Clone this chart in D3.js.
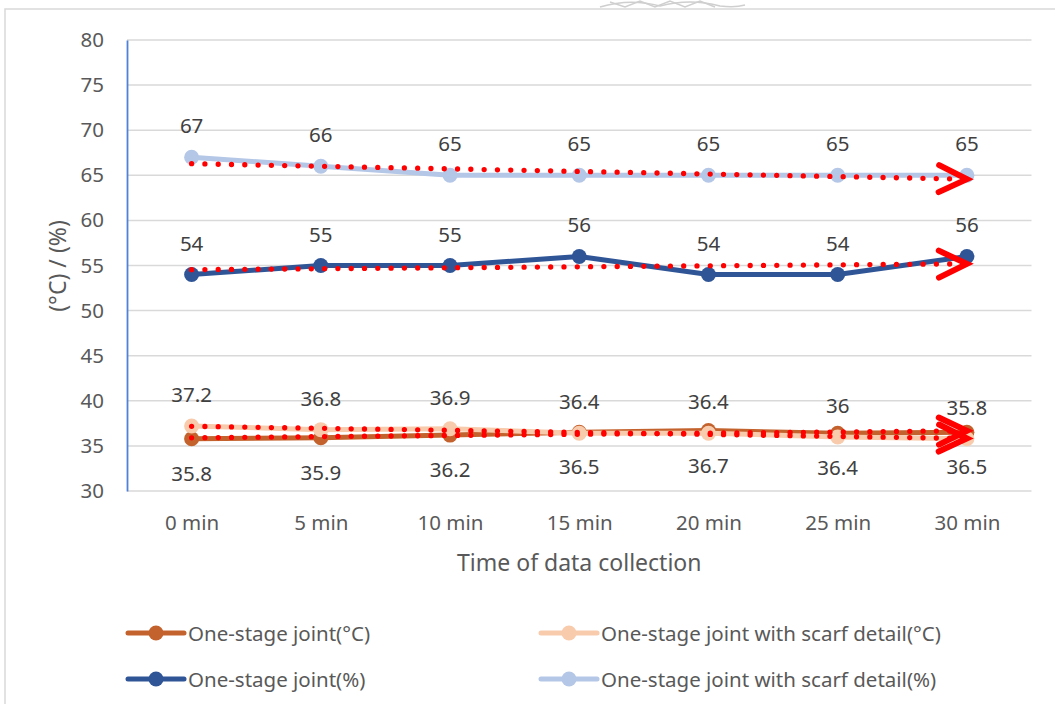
<!DOCTYPE html>
<html><head><meta charset="utf-8">
<script src="https://cdn.jsdelivr.net/npm/d3@7"></script>
<style>
html,body{margin:0;padding:0;background:#fff;}
svg{display:block;font-family:"Noto Sans",sans-serif;}
</style></head>
<body>
<svg id="chart" width="1055" height="704"></svg>
<script>
// ---- data ----
const categories = ["0 min","5 min","10 min","15 min","20 min","25 min","30 min"];
const jointC      = [35.8, 35.9, 36.2, 36.5, 36.7, 36.4, 36.5];
const scarfC      = [37.2, 36.8, 36.9, 36.4, 36.4, 36.0, 35.8];
const jointPct    = [54, 55, 55, 56, 54, 54, 56];
const scarfPct    = [67, 66, 65, 65, 65, 65, 65];
const yTicks      = [30,35,40,45,50,55,60,65,70,75,80];
const seriesNames = ["One-stage joint(°C)","One-stage joint with scarf detail(°C)","One-stage joint(%)","One-stage joint with scarf detail(%)"];
const seriesColors= ["#C4622D","#F8CBAD","#2F5597","#B4C7E7"];
const labelPos    = ["below","above","above","above"];

const series = [jointC, scarfC, jointPct, scarfPct].map((v,i)=>({
  name: seriesNames[i], color: seriesColors[i], values: v, pos: labelPos[i]
}));

const svg = d3.select("#chart");
const plotL = 127, plotR = 1031.5, plotT = 40, plotB = 491;

// frame
svg.append("rect").attr("x",5).attr("y",9).attr("width",1200).attr("height",900)
  .attr("fill","none").attr("stroke","#D9D9D9").attr("stroke-width",1.5);

// faint watermark remnant above frame
const wm = svg.append("g").attr("fill","none").attr("stroke","#cfcfcf").attr("stroke-width",1.5);
wm.append("path").attr("d","M600,7 Q630,-2 660,6 Q690,-2 720,6 Q735,8 745,5");
wm.append("path").attr("d","M610,2 L625,7 L640,1 L655,7 L670,1 L685,7 L700,1 L715,7");

const x = d3.scalePoint().domain(categories).range([plotL,plotR]).padding(0.5);
const y = d3.scaleLinear().domain([30,80]).range([plotB,plotT]);

// gridlines
svg.append("g").selectAll("line").data(yTicks).join("line")
  .attr("x1",plotL).attr("x2",plotR).attr("y1",d=>y(d)).attr("y2",d=>y(d))
  .attr("stroke","#D9D9D9").attr("stroke-width",1.5);

// y axis
const yAxis = svg.append("g").attr("transform",`translate(${plotL},0)`)
  .call(d3.axisLeft(y).tickValues(yTicks).tickSize(0).tickPadding(23));
yAxis.select(".domain").attr("stroke","#4F81D6").attr("stroke-width",1.8);
yAxis.selectAll("text").attr("font-size","20.5px").attr("fill","#595959")
  .attr("font-family","Noto Sans");

// x axis labels
const xAxis = svg.append("g").attr("transform",`translate(0,${plotB})`)
  .call(d3.axisBottom(x).tickSize(0).tickPadding(24));
xAxis.select(".domain").remove();
xAxis.selectAll("text").attr("font-size","20.5px").attr("fill","#595959")
  .attr("font-family","Noto Sans");

// axis titles
svg.append("text").attr("x",(plotL+plotR)/2).attr("y",571).attr("text-anchor","middle")
  .attr("font-size","23px").attr("fill","#595959").text("Time of data collection");
svg.append("text").attr("transform","translate(57,266) rotate(-90)")
  .attr("text-anchor","middle").attr("dominant-baseline","central")
  .attr("font-size","23px").attr("fill","#595959").text("(°C) / (%)");

// series lines + markers
const line = d3.line().x((d,i)=>x(categories[i])).y(d=>y(d));
series.forEach(s=>{
  const g = svg.append("g");
  g.append("path").datum(s.values).attr("d",line).attr("fill","none")
    .attr("stroke",s.color).attr("stroke-width",5).attr("stroke-linejoin","round");
  g.selectAll("circle").data(s.values).join("circle")
    .attr("cx",(d,i)=>x(categories[i])).attr("cy",d=>y(d)).attr("r",7.5)
    .attr("fill",s.color);
});

// linear trendlines (red dotted with open arrowhead)
series.forEach(s=>{
  const n = s.values.length;
  const xs = d3.range(n);
  const mx = d3.mean(xs), my = d3.mean(s.values);
  const sxy = d3.sum(xs,(xi,i)=>(xi-mx)*(s.values[i]-my));
  const sxx = d3.sum(xs,xi=>(xi-mx)*(xi-mx));
  const slope = sxy/sxx, icpt = my - slope*mx;
  const p0 = [x(categories[0]), y(icpt)];
  const p1 = [x(categories[n-1]), y(icpt + slope*(n-1))];
  svg.append("line").attr("x1",p0[0]).attr("y1",p0[1]).attr("x2",p1[0]).attr("y2",p1[1])
    .attr("stroke","#FF0000").attr("stroke-width",5.3).attr("stroke-linecap","round")
    .attr("stroke-dasharray","0 13.3");
  const ang = Math.atan2(p1[1]-p0[1], p1[0]-p0[0]);
  const back = 28, half = 13.5;
  const ca = Math.cos(ang), sa = Math.sin(ang);
  const a1 = [p1[0]-back*ca - half*(-sa), p1[1]-back*sa - half*ca];
  const a2 = [p1[0]-back*ca + half*(-sa), p1[1]-back*sa + half*ca];
  svg.append("path").attr("d",`M${a1}L${p1}L${a2}`)
    .attr("fill","none").attr("stroke","#FF0000").attr("stroke-width",6)
    .attr("stroke-linejoin","miter").attr("stroke-linecap","round");
});

// data labels
series.forEach(s=>{
  svg.append("g").selectAll("text").data(s.values).join("text")
    .attr("x",(d,i)=>x(categories[i]))
    .attr("y",d=> s.pos==="above" ? y(d)-24 : y(d)+42)
    .attr("text-anchor","middle").attr("font-size","20.5px").attr("fill","#404040")
    .text(d=>d);
});

// legend
const legPos = [[128,633],[541,633],[128,679],[541,679]];
series.forEach((s,i)=>{
  const [lx,ly] = legPos[i];
  const g = svg.append("g");
  g.append("line").attr("x1",lx).attr("x2",lx+56).attr("y1",ly).attr("y2",ly)
    .attr("stroke",s.color).attr("stroke-width",5).attr("stroke-linecap","round");
  g.append("circle").attr("cx",lx+28).attr("cy",ly).attr("r",7.5).attr("fill",s.color);
  g.append("text").attr("x",lx+60).attr("y",ly+7.5).attr("font-size","20.5px")
    .attr("fill","#595959").text(s.name);
});
</script>
</body></html>
